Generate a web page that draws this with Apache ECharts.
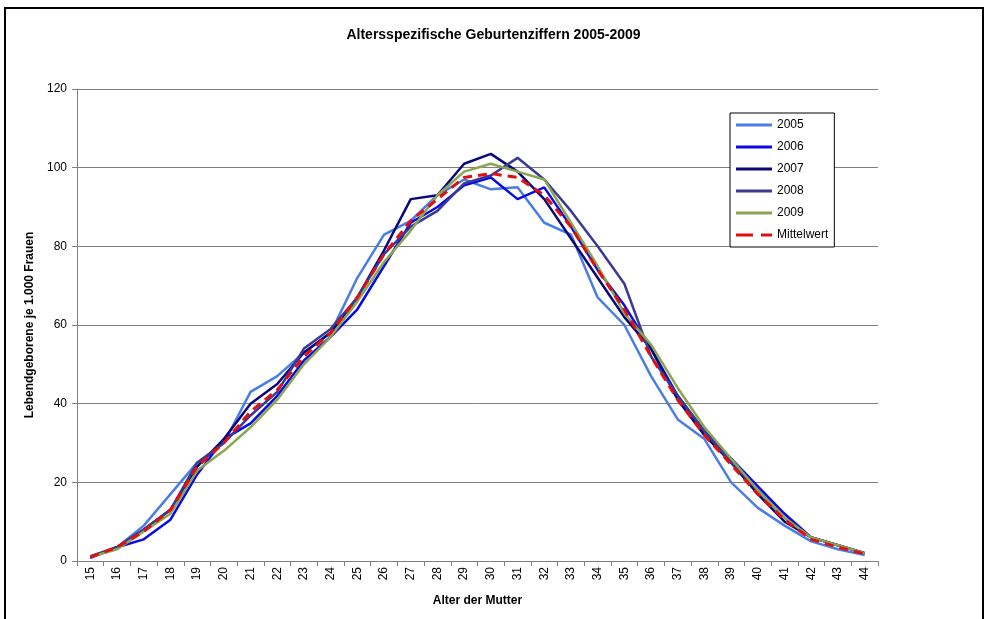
<!DOCTYPE html>
<html>
<head>
<meta charset="utf-8">
<script src="https://cdn.jsdelivr.net/npm/echarts@6/dist/echarts.min.js"></script>
<style>
  html, body { margin: 0; padding: 0; background: #fff; }
  #main { width: 987px; height: 619px; }
</style>
</head>
<body>
<div id="main"></div>
<script>
// Alter der Mutter
const ages = ['15','16','17','18','19','20','21','22','23','24','25','26','27','28','29',
  '30','31','32','33','34','35','36','37','38','39','40','41','42','43','44'];

const y2005 = [1, 3.5, 9, 17, 25, 30, 43, 47, 53, 58, 72, 83, 86.5, 93, 97,
  94.5, 95, 86, 83, 67, 60, 47, 36, 31, 20, 13.5, 9, 5, 3, 1.5];
const y2006 = [0.8, 3.5, 5.5, 10.5, 22, 31, 35, 42, 51, 57, 64, 75, 86, 90, 95.5,
  97.5, 92, 95, 85, 74, 65, 54, 42, 33, 26, 19, 12, 6, 4, 2];
const y2007 = [1, 3.5, 8, 13, 24, 31, 40, 45, 53, 58, 67, 79, 92, 93, 101,
  103.5, 99, 92, 82, 72, 62, 54, 41, 32, 25, 17, 10, 6, 4, 2];
const y2008 = [1.2, 3.5, 8, 13, 25, 30, 37, 43, 54, 59, 67, 78, 85, 89, 96,
  98, 102.5, 97, 89, 80, 70.5, 52, 42, 33, 25, 18, 11, 6, 4, 2];
const y2009 = [1, 3, 7.5, 12, 23, 28, 34, 41, 50, 57, 66, 76, 84, 93, 99,
  101, 99, 97, 86, 75, 63, 55, 44, 34, 26, 18, 11, 6, 4, 2];
const mittel = [1, 3.5, 7.5, 13, 24, 30, 38, 43.5, 52, 58, 67, 78, 86.5, 92, 97.5,
  98.5, 97.5, 93, 85, 74, 64, 52, 41, 32, 24.5, 17, 10.5, 5.5, 3.5, 1.8];

const fnt = 'Liberation Sans, Arial, sans-serif';
const solidIcon = 'path://M0,0h36v3h-36z';
const dashIcon = 'path://M0,0h17v3h-17z M25,0h11v3h-11z';

function line(name, data, color, type) {
  return {
    name: name,
    type: 'line',
    data: data,
    symbol: 'none',
    lineStyle: { color: color, width: type ? 3 : 2.5, type: type || 'solid' },
    itemStyle: { color: color }
  };
}

const chart = echarts.init(document.getElementById('main'));
chart.setOption({
  animation: false,
  backgroundColor: '#fff',
  title: {
    text: 'Altersspezifische Geburtenziffern 2005-2009',
    left: 'center',
    top: 23,
    textStyle: { fontFamily: fnt, fontSize: 14, fontWeight: 'bold', color: '#000' }
  },
  graphic: [{
    type: 'rect',
    shape: { x: 5, y: 8, width: 978, height: 620 },
    style: { fill: 'none', stroke: '#000', lineWidth: 2 },
    silent: true
  }],
  legend: {
    orient: 'vertical',
    left: 730,
    top: 113,
    itemWidth: 36,
    itemHeight: 3,
    itemGap: 8,
    padding: [5, 6, 5, 6],
    borderColor: '#000',
    borderWidth: 1,
    backgroundColor: '#fff',
    textStyle: { fontFamily: fnt, fontSize: 12, color: '#000', lineHeight: 14 },
    data: [
      { name: '2005', icon: solidIcon },
      { name: '2006', icon: solidIcon },
      { name: '2007', icon: solidIcon },
      { name: '2008', icon: solidIcon },
      { name: '2009', icon: solidIcon },
      { name: 'Mittelwert', icon: dashIcon }
    ]
  },
  grid: { left: 77, right: 109, top: 89, bottom: 58 },
  xAxis: {
    type: 'category',
    data: ages,
    boundaryGap: true,
    name: 'Alter der Mutter',
    nameLocation: 'middle',
    nameGap: 34,
    nameTextStyle: { fontFamily: fnt, fontSize: 12, fontWeight: 'bold', color: '#000' },
    axisLine: { lineStyle: { color: '#808080', width: 1 } },
    axisTick: { show: true, alignWithLabel: false, length: 5, lineStyle: { color: '#808080' } },
    axisLabel: { rotate: 90, fontFamily: fnt, fontSize: 12, color: '#000', margin: 6 }
  },
  yAxis: {
    type: 'value',
    min: 0,
    max: 120,
    interval: 20,
    name: 'Lebendgeborene je 1.000 Frauen',
    nameLocation: 'middle',
    nameGap: 38,
    nameTextStyle: { fontFamily: fnt, fontSize: 12, fontWeight: 'bold', color: '#000' },
    axisLine: { show: true, lineStyle: { color: '#808080', width: 1 } },
    axisTick: { show: true, length: 5, lineStyle: { color: '#808080' } },
    axisLabel: { fontFamily: fnt, fontSize: 12, color: '#000', margin: 10 },
    splitLine: { lineStyle: { color: '#808080', width: 1 } }
  },
  series: [
    line('2005', y2005, '#4a7de6'),
    line('2006', y2006, '#0a0ae6'),
    line('2007', y2007, '#08087a'),
    line('2008', y2008, '#3a3a92'),
    line('2009', y2009, '#8aa64e'),
    line('Mittelwert', mittel, '#e01010', [9, 6])
  ]
});
</script>
</body>
</html>
